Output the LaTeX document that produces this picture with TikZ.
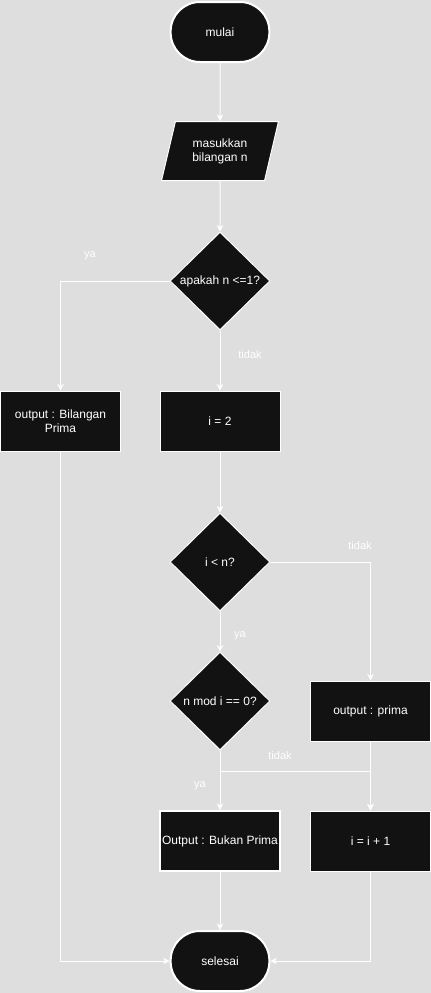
\documentclass[tikz,border=0pt]{standalone}
\usepackage{fontspec}
\setmainfont{Liberation Sans}
\usepackage{xcolor}
\usetikzlibrary{arrows.meta,positioning,shapes.geometric}
\definecolor{bgGray}{RGB}{222,222,222}
\definecolor{boxBlack}{RGB}{18,18,18}

\begin{document}
\begin{tikzpicture}[x=0.75pt,y=-0.75pt,
  base/.style={fill=boxBlack, draw=white, line width=0.75pt, text=white, font=\fontsize{9}{10.5}\selectfont, align=center, inner sep=1pt},
  terminal/.style={base, rectangle, rounded corners=22pt, minimum width=74pt, minimum height=45pt, line width=1.5pt},
  inputbox/.style={base, trapezium, trapezium left angle=72, trapezium right angle=108, trapezium stretches=true, minimum width=87.75pt, minimum height=44.25pt},
  processbox/.style={base, rectangle, minimum width=90pt, minimum height=45pt},
  decision/.style={base, diamond, minimum width=75pt, minimum height=73.5pt, inner sep=0pt},
  flow/.style={white, line width=0.75pt, -{Stealth[length=5pt,width=5pt]}},
  flowline/.style={white, line width=0.75pt},
  edgelabel/.style={text=white, font=\fontsize{8.25}{10}\selectfont, inner sep=0pt}]
\fill[bgGray] (0,0) rectangle (431,993);
\useasboundingbox (0,0) rectangle (431,993);

% nodes
\node[terminal] (mulai) at (220,32) {mulai};
\node[inputbox] (input) at (220,151) {masukkan\\bilangan n};
\node[decision] (cekSatu) at (220,281) {apakah n <=1?};
\node[processbox] (outBilangan) at (60.5,421) {output : Bilangan\\Prima};
\node[processbox] (iDua) at (220,421) {i = 2};
\node[decision] (cekKurang) at (220,562) {i < n?};
\node[decision] (cekMod) at (220,701) {n mod i == 0?};
\node[processbox] (outPrima) at (370.5,711) {output : prima};
\node[processbox, line width=1.5pt] (outBukan) at (220,841) {Output : Bukan Prima};
\node[processbox] (tambah) at (370.5,841) {i = i + 1};
\node[terminal] (selesai) at (220,961) {selesai};
\coordinate (belok) at (220,771);

% labels
\node[edgelabel] (yaSatu) at (90,256) {ya};
\node[edgelabel] (tidakSatu) at (250,355) {tidak};
\node[edgelabel] (tidakDua) at (360,546) {tidak};
\node[edgelabel] (yaDua) at (240,636) {ya};
\node[edgelabel] (tidakTiga) at (280,756) {tidak};
\node[edgelabel] (yaTiga) at (200,786) {ya};

% connectors
\draw[flow] (mulai) -- (input);
\draw[flow] (input) -- (cekSatu);
\draw[flow] (cekSatu.west) -| (outBilangan.north);
\draw[flow] (cekSatu.south) -- (iDua.north);
\draw[flow] (outBilangan.south) |- (selesai.west);
\draw[flow] (iDua) -- (cekKurang);
\draw[flow] (cekKurang.east) -| (outPrima.north);
\draw[flow] (cekKurang.south) -- (cekMod.north);
\draw[flow] (cekMod.south) -- (outBukan.north);
\draw[flowline] (cekMod.south) -- (belok);
\draw[flow] (belok) -| (tambah.north);
\draw[flow] (outPrima.south) -- (tambah.north);
\draw[flow] (tambah.south) |- (selesai.east);
\draw[flow] (outBukan) -- (selesai);
\end{tikzpicture}
\end{document}
